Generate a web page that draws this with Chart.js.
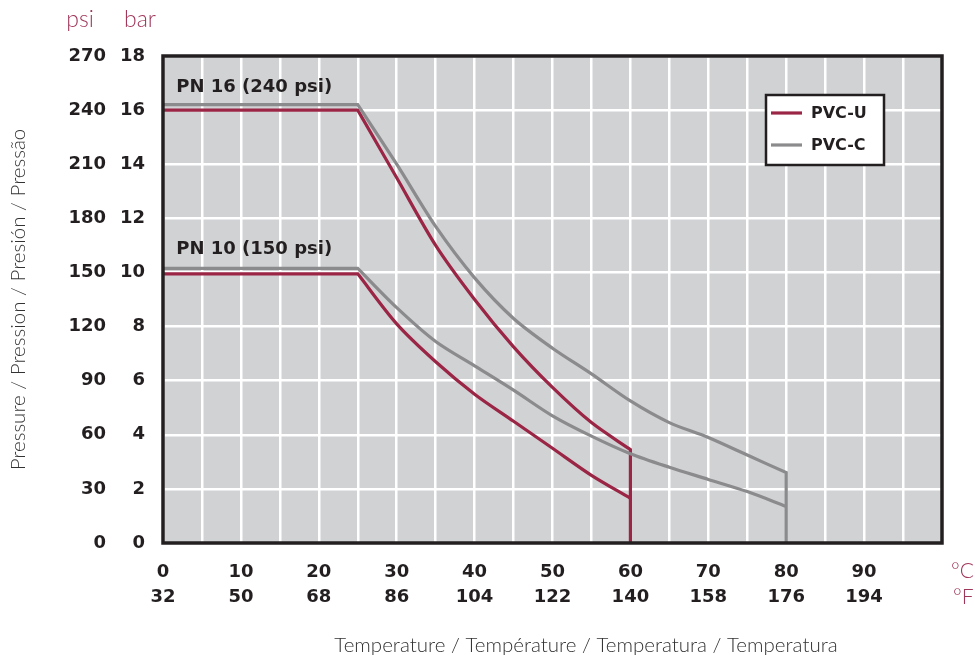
<!DOCTYPE html>
<html>
<head>
<meta charset="utf-8">
<script src="https://cdn.jsdelivr.net/npm/chart.js@4.4.0/dist/chart.umd.min.js"></script>
<style>
  html, body { margin: 0; padding: 0; background: #fff; }
  #wrap { width: 975px; height: 655px; }
</style>
</head>
<body>
<div id="wrap"><canvas id="myChart" width="975" height="655"></canvas></div>
<script>
// temperature in °C, pressure in bar
const pvcuPN16Temp = [0, 25, 30, 35, 40, 45, 50, 55, 60, 60];
const pvcuPN16Bar  = [16, 16, 13.5, 11.0, 9.0, 7.25, 5.75, 4.45, 3.45, 0];
const pvcuPN10Temp = [0, 25, 30, 35, 40, 45, 50, 55, 60];
const pvcuPN10Bar  = [9.95, 9.95, 8.1, 6.7, 5.5, 4.5, 3.5, 2.5, 1.65];
const pvccPN16Temp = [0, 25, 30, 35, 40, 45, 50, 55, 60, 65, 70, 75, 80, 80];
const pvccPN16Bar  = [16.2, 16.2, 14.0, 11.7, 9.8, 8.3, 7.2, 6.25, 5.25, 4.45, 3.9, 3.25, 2.6, 0];
const pvccPN10Temp = [0, 25, 30, 35, 40, 45, 50, 55, 60, 65, 70, 75, 80];
const pvccPN10Bar  = [10.15, 10.15, 8.7, 7.45, 6.55, 5.65, 4.7, 3.95, 3.3, 2.8, 2.35, 1.9, 1.35];

const seriesNames = ['PVC-U', 'PVC-C'];
const seriesColors = ['#9a2545', '#8b8b8d'];
const pnLabels = ['PN 16 (240 psi)', 'PN 10 (150 psi)'];
const pnLabelPos = [[1.7, 16.85], [1.7, 10.85]];

const BOLD = 'bold 18px "DejaVu Sans"';
const LIGHT = '"Lato", "Noto Sans", sans-serif';
const DARK = '#231f20';
const CRIMSON = '#a0365a';

// sharp = indexes of corner points; they are doubled so the curve keeps a hard corner there
const line = (label, temps, bars, color, sharp) => {
  const pts = [];
  temps.forEach((t, i) => {
    pts.push({x: t, y: bars[i]});
    if (sharp.includes(i)) pts.push({x: t, y: bars[i]});
  });
  return {
    label: label,
    data: pts,
    borderColor: color,
    backgroundColor: color,
    borderWidth: 3.2,
    pointRadius: 0,
    tension: 0.3,
    fill: false,
  };
};

const frame = {
  id: 'frame',
  beforeDraw(chart) {
    const {ctx, chartArea: a} = chart;
    ctx.save();
    ctx.fillStyle = '#d1d2d4';
    ctx.fillRect(a.left, a.top, a.right - a.left, a.bottom - a.top);
    ctx.restore();
  },
  afterDatasetsDraw(chart) {
    const {ctx, scales} = chart;
    ctx.save();
    ctx.font = BOLD;
    ctx.fillStyle = DARK;
    ctx.textBaseline = 'middle';
    pnLabels.forEach((t, i) => {
      ctx.fillText(t, scales.x.getPixelForValue(pnLabelPos[i][0]), scales.y.getPixelForValue(pnLabelPos[i][1]));
    });
    ctx.restore();
  },
  afterDraw(chart) {
    const {ctx, chartArea: a} = chart;
    ctx.save();
    // plot border
    ctx.strokeStyle = DARK;
    ctx.lineWidth = 3.5;
    ctx.strokeRect(a.left, a.top, a.right - a.left, a.bottom - a.top);

    // legend
    const lx = 766, ly = 95, lw = 118, lh = 70;
    ctx.fillStyle = '#fff';
    ctx.fillRect(lx, ly, lw, lh);
    ctx.lineWidth = 2.5;
    ctx.strokeRect(lx, ly, lw, lh);
    ctx.font = 'bold 16px "DejaVu Sans"';
    ctx.textBaseline = 'middle';
    seriesNames.forEach((n, i) => {
      const y = 113 + i * 32;
      ctx.strokeStyle = seriesColors[i];
      ctx.lineWidth = 3.2;
      ctx.beginPath();
      ctx.moveTo(771, y);
      ctx.lineTo(802, y);
      ctx.stroke();
      ctx.fillStyle = DARK;
      ctx.fillText(n, 811, y + 1);
    });

    // unit labels
    ctx.fillStyle = CRIMSON;
    ctx.font = '300 23px ' + LIGHT;
    ctx.textAlign = 'center';
    ctx.fillText('psi', 80, 20);
    ctx.fillText('bar', 140, 20);
    ctx.textAlign = 'left';
    ctx.font = '300 21px ' + LIGHT;
    ctx.fillText('°C', 951, 571);
    ctx.fillText('°F', 953, 597);

    // x title
    ctx.fillStyle = '#333';
    ctx.font = '300 20.5px ' + LIGHT;
    ctx.textAlign = 'center';
    ctx.fillText('Temperature / Température / Temperatura / Temperatura', 586, 645);
    ctx.restore();
  }
};

const ctx = document.getElementById('myChart').getContext('2d');

const myChart = new Chart(ctx, {
  type: 'line',
  data: {
    datasets: [
      line(seriesNames[1], pvccPN16Temp, pvccPN16Bar, seriesColors[1], [1, 12]),
      line(seriesNames[1], pvccPN10Temp, pvccPN10Bar, seriesColors[1], [1]),
      line(seriesNames[0], pvcuPN16Temp, pvcuPN16Bar, seriesColors[0], [1, 8]),
      line(seriesNames[0], pvcuPN10Temp, pvcuPN10Bar, seriesColors[0], [1]),
    ]
  },
  options: {
    responsive: false,
    animation: false,
    layout: {
      padding: {top: 56, right: 33, left: 0, bottom: 0}
    },
    plugins: {
      legend: {display: false},
      tooltip: {enabled: false},
    },
    scales: {
      x: {
        type: 'linear',
        min: 0,
        max: 100,
        grid: {color: '#ffffff', lineWidth: 2.5, drawTicks: false},
        border: {display: false},
        ticks: {
          stepSize: 5,
          autoSkip: false,
          maxRotation: 0,
          padding: 17,
          color: DARK,
          font: {family: 'DejaVu Sans', size: 18, weight: 'bold', lineHeight: 1.4},
          callback: (v) => (v % 10 === 0 && v < 100) ? [String(v), String(v * 9 / 5 + 32)] : '',
        },
        afterFit: (s) => { s.height = 112; },
      },
      y: {
        type: 'linear',
        position: 'left',
        weight: 0,
        min: 0,
        max: 18,
        grid: {color: '#ffffff', lineWidth: 2.5, drawTicks: false},
        border: {display: false},
        ticks: {
          stepSize: 2,
          padding: 18,
          color: DARK,
          font: {family: 'DejaVu Sans', size: 18, weight: 'bold'},
        },
        afterFit: (s) => { s.width = 50; },
      },
      psi: {
        type: 'linear',
        position: 'left',
        weight: 1,
        min: 0,
        max: 18,
        grid: {display: false, drawTicks: false},
        border: {display: false},
        ticks: {
          stepSize: 2,
          padding: 7,
          color: DARK,
          font: {family: 'DejaVu Sans', size: 18, weight: 'bold'},
          callback: (v) => String(v * 15),
        },
        title: {
          display: true,
          text: 'Pressure / Pression / Presión / Pressão',
          color: '#333',
          font: {family: 'Lato', size: 20.5, weight: '300'},
          padding: {top: 6, bottom: 0},
        },
        afterFit: (s) => { s.width = 113; },
      },
    }
  },
  plugins: [frame]
});
</script>
</body>
</html>
